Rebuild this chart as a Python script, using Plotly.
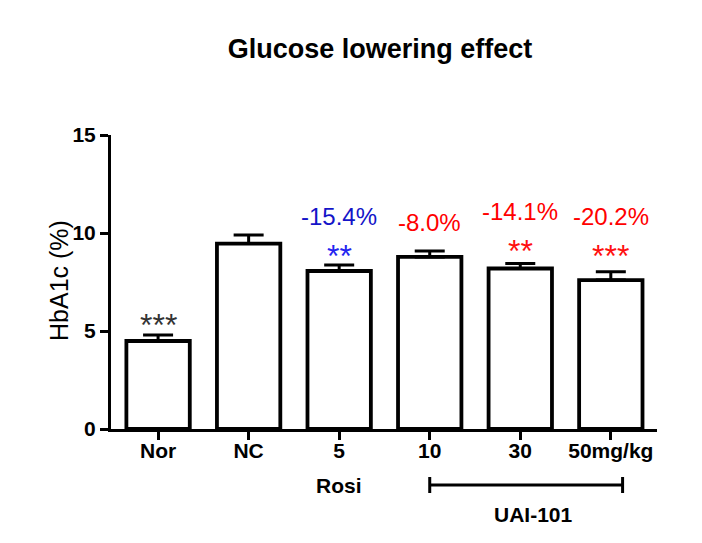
import plotly.graph_objects as go

categories = ["Nor", "NC", "5", "10", "30", "50mg/kg"]
hba1c = [4.49, 9.46, 8.06, 8.78, 8.19, 7.6]
sem = [0.31, 0.44, 0.31, 0.30, 0.26, 0.42]
pct_labels = ["", "", "-15.4%", "-8.0%", "-14.1%", "-20.2%"]
pct_colors = ["black", "black", "#1414C8", "#FF0000", "#FF0000", "#FF0000"]
star_labels = ["***", "", "**", "", "**", "***"]
star_colors = ["#333333", "black", "#2424F0", "black", "#FF1010", "#FF1010"]

# layout positions (page pixels of the reference)
pct_ypix = [0, 0, 216.5, 222, 211.5, 216.5]
star_ypix = [320, 0, 251, 0, 246, 251]

FONT = "Liberation Sans, Arial, sans-serif"
PAGE_OFF = 8  # body margin of the html page
X0, X1, Y0, Y1 = 111, 657, 135, 429  # plot area on the page


def py(ypix):
    return (Y1 - ypix) / (Y1 - Y0)


x = list(range(len(categories)))

fig = go.Figure()
fig.add_trace(go.Bar(
    x=x, y=hba1c, width=0.7,
    marker=dict(color="white", line=dict(color="black", width=3.8)),
    error_y=dict(type="data", array=sem, symmetric=False, arrayminus=[0] * len(sem),
                 color="black", thickness=3, width=15),
    showlegend=False,
))

annotations = []
for i in x:
    if pct_labels[i]:
        annotations.append(dict(x=i, y=py(pct_ypix[i]), yref="paper", xref="x",
                                yanchor="middle", text=pct_labels[i], showarrow=False,
                                font=dict(family=FONT, size=24, color=pct_colors[i])))
    if star_labels[i]:
        annotations.append(dict(x=i, y=py(star_ypix[i] + 5), yref="paper", xref="x",
                                yanchor="middle", text=star_labels[i], showarrow=False,
                                font=dict(family=FONT, size=32, color=star_colors[i])))

annotations.append(dict(x=2, y=py(486), xref="x", yref="paper", yanchor="middle",
                        text="<b>Rosi</b>", showarrow=False,
                        font=dict(family=FONT, size=21, color="black")))
annotations.append(dict(x=4.15, y=py(514), xref="x", yref="paper", yanchor="middle",
                        text="<b>UAI-101</b>", showarrow=False,
                        font=dict(family=FONT, size=21, color="black")))
annotations.append(dict(x=(59 - X0) / (X1 - X0), y=py(281), xref="paper", yref="paper",
                        xanchor="center", yanchor="middle", textangle=-90,
                        text="HbA1c (%)", showarrow=False,
                        font=dict(family=FONT, size=25, color="black")))

bracket_y = py(485)
tick_h = 8 / (Y1 - Y0)
bx0, bx1 = 3.0, 5.13
shapes = [
    dict(type="line", xref="x", yref="paper", x0=bx0, x1=bx1, y0=bracket_y, y1=bracket_y,
         line=dict(color="black", width=3)),
    dict(type="line", xref="x", yref="paper", x0=bx0, x1=bx0, y0=bracket_y - tick_h,
         y1=bracket_y + tick_h, line=dict(color="black", width=3)),
    dict(type="line", xref="x", yref="paper", x0=bx1, x1=bx1, y0=bracket_y - tick_h,
         y1=bracket_y + tick_h, line=dict(color="black", width=3)),
]

W, H = 702 - PAGE_OFF, 543 - PAGE_OFF
fig.update_layout(
    width=W, height=H,
    margin=dict(l=X0 - PAGE_OFF, r=W - (X1 - PAGE_OFF), t=Y0 - PAGE_OFF, b=H - (Y1 - PAGE_OFF)),
    plot_bgcolor="white", paper_bgcolor="white",
    title=dict(text="<b>Glucose lowering effect</b>", x=(380 - PAGE_OFF) / W, xanchor="center",
               y=1 - (49 - PAGE_OFF) / H, yanchor="middle",
               font=dict(family=FONT, size=27, color="black")),
    xaxis=dict(range=[-0.52, 5.51], tickmode="array", tickvals=x,
               ticktext=["<b>%s</b>" % c for c in categories],
               showline=True, linecolor="black", linewidth=3,
               ticks="outside", ticklen=8, tickwidth=2.5, tickcolor="black",
               ticklabelstandoff=-7,
               showgrid=False, zeroline=False,
               tickfont=dict(family=FONT, size=21, color="black")),
    yaxis=dict(range=[0, 15], tickvals=[0, 5, 10, 15],
               ticktext=["<b>0</b>", "<b>5</b>", "<b>10</b>", "<b>15</b>"],
               showline=True, linecolor="black", linewidth=3,
               ticks="outside", ticklen=8, tickwidth=2.5, tickcolor="black",
               showgrid=False, zeroline=False,
               tickfont=dict(family=FONT, size=21, color="black")),
    annotations=annotations,
    shapes=shapes,
)

fig.write_html("out.html")
